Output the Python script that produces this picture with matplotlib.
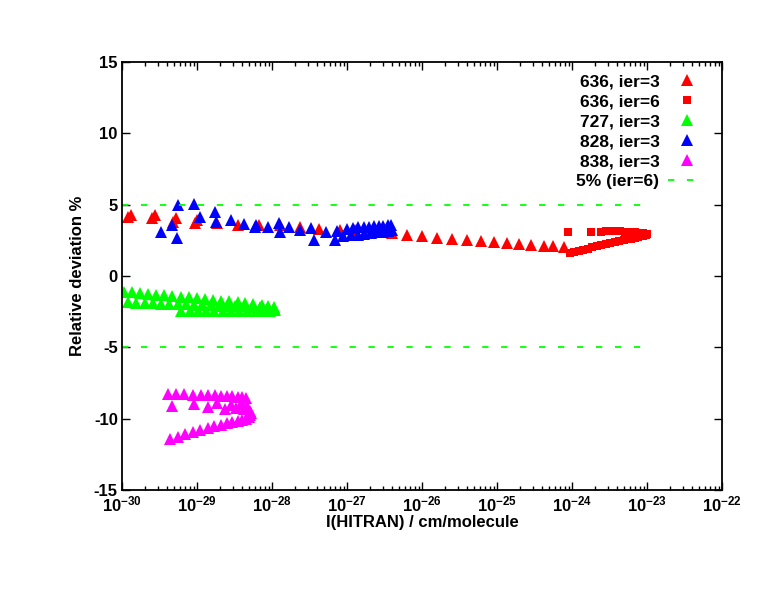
import numpy as np
import matplotlib
matplotlib.use("Agg")
import matplotlib.pyplot as plt
from matplotlib.ticker import FuncFormatter, LogLocator, MultipleLocator

plt.rcParams['font.family'] = ['Liberation Sans', 'DejaVu Sans']
plt.rcParams['font.weight'] = 'bold'
plt.rcParams['axes.unicode_minus'] = False
plt.rcParams['mathtext.fontset'] = 'custom'
plt.rcParams['mathtext.rm'] = 'Liberation Sans:bold'
plt.rcParams['mathtext.bf'] = 'Liberation Sans:bold'
plt.rcParams['mathtext.it'] = 'Liberation Sans:bold'

# ---- data: log10(intensity) and relative deviation (%) ----
x636_3 = [-29.92, -29.88, -29.60, -29.56, -29.32, -29.28, -29.03, -29.00, -28.74, -28.46,
          -28.17, -27.90, -27.63, -27.37, -27.10, -26.90, -26.70, -26.55, -26.40, -26.20,
          -26.00, -25.80, -25.60, -25.40, -25.22, -25.04, -24.87, -24.71, -24.55, -24.38,
          -24.25, -24.11]
y636_3 = [4.15, 4.30, 4.05, 4.25, 3.80, 4.10, 3.75, 3.95, 3.75, 3.60,
          3.60, 3.60, 3.40, 3.30, 3.25, 3.20, 3.15, 3.10, 3.00, 2.90,
          2.80, 2.65, 2.58, 2.50, 2.42, 2.35, 2.28, 2.22, 2.16, 2.12,
          2.08, 2.04]

x636_6 = [-24.03, -23.97, -23.91, -23.85, -23.79, -23.73, -23.67, -23.61, -23.55, -23.49,
          -23.43, -23.37, -23.31, -23.26, -23.21, -23.16, -23.12, -23.08, -23.05, -23.02,
          -23.00,
          -24.05, -23.75, -23.62, -23.55, -23.48, -23.42, -23.36, -23.30, -23.25, -23.20,
          -23.16, -23.12, -23.08, -23.05, -23.02]
y636_6 = [1.60, 1.68, 1.76, 1.84, 1.92, 2.00, 2.08, 2.15, 2.22, 2.29,
          2.36, 2.43, 2.50, 2.56, 2.62, 2.68, 2.73, 2.78, 2.83, 2.88,
          2.93,
          3.05, 3.05, 3.10, 3.12, 3.12, 3.12, 3.12, 3.10, 3.10, 3.08,
          3.06, 3.04, 3.02, 3.00, 2.97]

x727_3 = [-29.98, -29.87, -29.76, -29.65, -29.55, -29.44, -29.33, -29.22, -29.11, -29.00,
          -28.90, -28.79, -28.68, -28.57, -28.46, -28.36, -28.25, -28.14, -28.05, -27.97,
          -29.92, -29.81, -29.70, -29.59, -29.48, -29.37, -29.26, -29.15, -29.04, -28.93,
          -28.82, -28.71, -28.60, -28.49, -28.38, -28.27, -28.16, -28.06, -27.98,
          -29.21, -29.10, -28.99, -28.88, -28.77, -28.66, -28.55, -28.44, -28.33, -28.22,
          -28.12, -28.03, -27.96]
y727_3 = [-1.10, -1.15, -1.20, -1.25, -1.30, -1.35, -1.40, -1.45, -1.50, -1.55,
          -1.60, -1.66, -1.72, -1.78, -1.84, -1.90, -1.96, -2.02, -2.08, -2.15,
          -1.85, -1.87, -1.89, -1.91, -1.93, -1.95, -1.97, -1.99, -2.01, -2.03,
          -2.05, -2.07, -2.09, -2.11, -2.13, -2.15, -2.17, -2.19, -2.21,
          -2.48, -2.48, -2.47, -2.47, -2.46, -2.46, -2.45, -2.45, -2.44, -2.44,
          -2.43, -2.42, -2.40]

x828_3 = [-29.48, -29.34, -29.27, -29.26, -29.04, -28.96, -28.76, -28.75, -28.55, -28.38,
          -28.23, -28.21, -28.06, -27.91, -27.89, -27.77, -27.63, -27.48, -27.44, -27.28,
          -27.16, -27.13,
          -27.00, -26.92, -26.85, -26.78, -26.71, -26.64, -26.58, -26.52, -26.46, -26.41,
          -27.05, -26.95, -26.86, -26.77, -26.68, -26.60, -26.52, -26.45, -26.40]
y828_3 = [3.11, 3.60, 2.69, 5.00, 5.07, 4.16, 4.50, 3.80, 3.95, 3.67,
          3.46, 3.60, 3.46, 3.74, 3.10, 3.46, 3.25, 3.39, 2.55, 3.10,
          2.55, 3.18,
          3.30, 3.35, 3.40, 3.42, 3.45, 3.48, 3.50, 3.52, 3.55, 3.55,
          2.80, 2.85, 2.90, 2.95, 3.00, 3.05, 3.10, 3.15, 3.25]

x838_3 = [-29.39, -29.28, -29.17, -29.06, -28.95, -28.85, -28.76, -28.68, -28.60, -28.53,
          -28.46, -28.40, -28.35,
          -29.33, -29.04, -28.85, -28.73, -28.63, -28.55, -28.48, -28.42, -28.37, -28.33,
          -29.36, -29.26, -29.16, -29.06, -28.96, -28.86, -28.77, -28.68, -28.60, -28.53,
          -28.46, -28.40, -28.35, -28.31, -28.29, -28.28, -28.30]
y838_3 = [-8.29, -8.29, -8.30, -8.31, -8.32, -8.34, -8.36, -8.38, -8.40, -8.43,
          -8.46, -8.50, -8.55,
          -9.13, -8.99, -9.20, -8.92, -9.34, -9.05, -9.25, -9.00, -9.30, -9.10,
          -11.43, -11.25, -11.08, -10.92, -10.78, -10.65, -10.53, -10.42, -10.32, -10.23,
          -10.15, -10.08, -10.02, -9.90, -9.75, -9.60, -9.45]

limit_x = [1e-30, 1e-23]
limit_pos = [5, 5]
limit_neg = [-5, -5]

labels = ["636, ier=3", "636, ier=6", "727, ier=3", "828, ier=3", "838, ier=3", "5% (ier=6)"]

fig = plt.figure(figsize=(7.63, 5.90), dpi=100)
ax = fig.add_axes([122/763, 1-490/590, 600/763, 428/590])

tri_ms = 8.3
ax.plot(10.0**np.array(x636_3), y636_3, '^', color='#ff0000', ms=tri_ms, mew=0, label=labels[0])
ax.plot(10.0**np.array(x636_6), y636_6, 's', color='#ff0000', ms=6.0, mew=0, label=labels[1])
ax.plot(10.0**np.array(x727_3), y727_3, '^', color='#00ff00', ms=tri_ms, mew=0, label=labels[2])
ax.plot(10.0**np.array(x828_3), y828_3, '^', color='#0000ff', ms=tri_ms, mew=0, label=labels[3])
ax.plot(10.0**np.array(x838_3), y838_3, '^', color='#ff00ff', ms=tri_ms, mew=0, label=labels[4])
ax.plot(limit_x, limit_pos, color='#00ff00', lw=1.3, dashes=(3.5, 7), label=labels[5])
ax.plot(limit_x, limit_neg, color='#00ff00', lw=1.3, dashes=(3.5, 7))

ax.set_xscale('log')
ax.set_xlim(1e-30, 1e-22)
ax.set_ylim(-15, 15)
ax.xaxis.set_major_locator(LogLocator(base=10, numticks=20))
ax.xaxis.set_minor_locator(LogLocator(base=10, subs=np.arange(2, 10), numticks=100))
ax.xaxis.set_major_formatter(FuncFormatter(lambda v, p: r'$10^{%d}$' % int(round(np.log10(v)))))
ax.yaxis.set_major_locator(MultipleLocator(5))

ax.tick_params(which='both', direction='in', top=True, right=True, width=1.0)
ax.tick_params(which='major', length=6, labelsize=12, pad=3)
ax.tick_params(which='minor', length=3)
for sp in ax.spines.values():
    sp.set_linewidth(1.3)

ax.set_xlabel('I(HITRAN) / cm/molecule', fontsize=12, fontweight='bold', labelpad=1)
ax.set_ylabel('Relative deviation %', fontsize=12, fontweight='bold', labelpad=6)

leg = ax.legend(loc='upper right', bbox_to_anchor=(0.997, 1.004), frameon=False,
                markerfirst=False, prop={'weight': 'bold', 'size': 12.5},
                handlelength=2.2, handletextpad=0.5, labelspacing=0.28, borderpad=0.3)
for vp in leg._legend_handle_box.get_children():
    vp.align = 'right'

fig.savefig('out.png', dpi=100)
